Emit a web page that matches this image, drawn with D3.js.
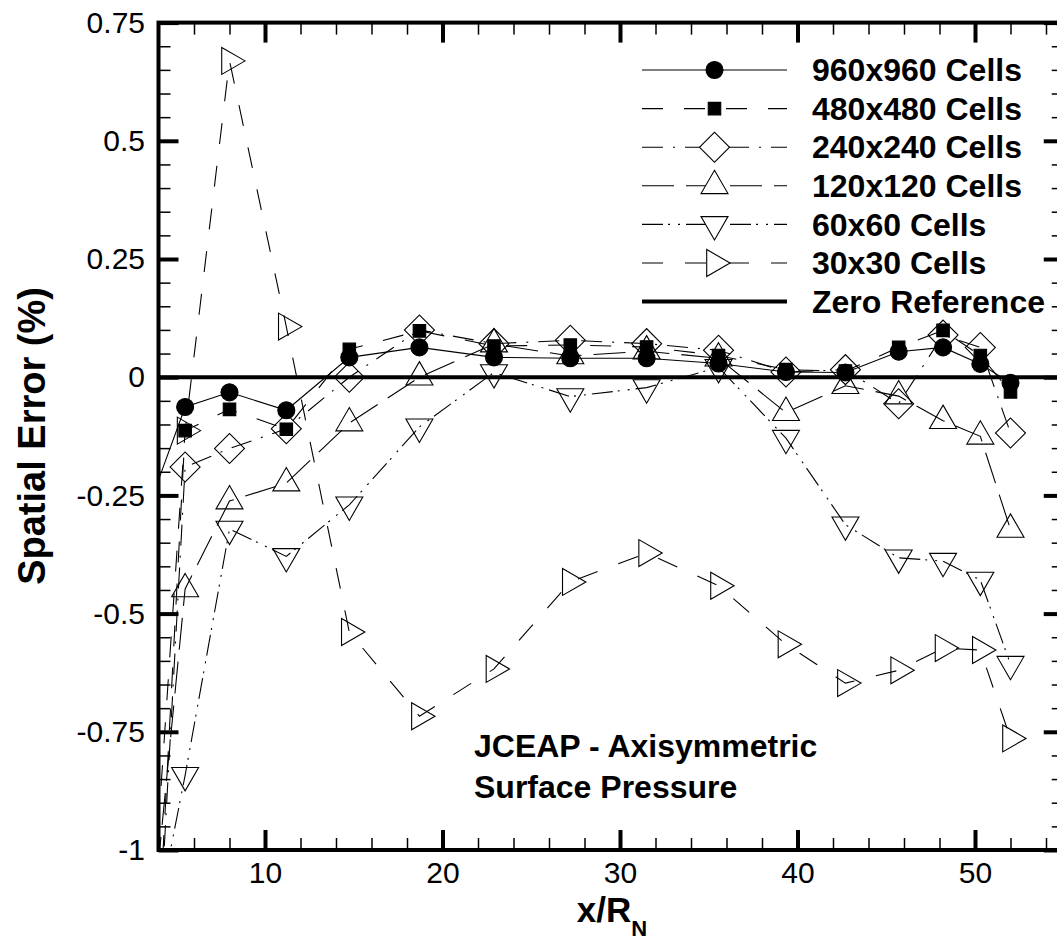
<!DOCTYPE html>
<html>
<head>
<meta charset="utf-8">
<script src="https://cdn.jsdelivr.net/npm/d3@7"></script>
<style>
  body { margin: 0; background: #fff; }
  text { font-family: Arial, "Liberation Sans", sans-serif; fill: #000; }
</style>
</head>
<body>
<script>
// stations along the body (the first one sits left of the plotted range)
const xStations = [3, 5.5, 8.0, 11.2, 14.75, 18.7, 22.9, 27.2, 31.5, 35.55, 39.35, 42.7, 45.7, 48.2, 50.3, 52.0];

// spatial error (%) per grid
const err960 = [-0.32, -0.063, -0.032, -0.070, 0.042, 0.063, 0.042, 0.040, 0.040, 0.029, 0.011, 0.010, 0.054, 0.063, 0.028, -0.012];
const err480 = [-1.9, -0.113, -0.068, -0.110, 0.059, 0.098, 0.066, 0.068, 0.064, 0.046, 0.016, 0.013, 0.063, 0.099, 0.046, -0.031];
const err240 = [-1.9, -0.190, -0.151, -0.109, 0.000, 0.100, 0.071, 0.078, 0.071, 0.057, 0.011, 0.016, -0.056, 0.089, 0.063, -0.118];
const err120 = [-1.41, -0.448, -0.262, -0.224, -0.097, 0.000, 0.070, 0.045, 0.055, 0.040, -0.075, -0.018, -0.040, -0.092, -0.125, -0.322];
const err60 = [-1.32, -0.842, -0.321, -0.379, -0.270, -0.105, 0.010, -0.041, -0.022, 0.021, -0.129, -0.312, -0.382, -0.389, -0.429, -0.607];
const err30 = [-1.5, -0.113, 0.669, 0.107, -0.539, -0.717, -0.617, -0.433, -0.372, -0.441, -0.565, -0.647, -0.620, -0.573, -0.577, -0.764];

const seriesNames = ['960x960 Cells', '480x480 Cells', '240x240 Cells', '120x120 Cells', '60x60 Cells', '30x30 Cells'];
const seriesValues = [err960, err480, err240, err120, err60, err30];

const xTicks = [10, 20, 30, 40, 50];
const yTicks = [-1, -0.75, -0.5, -0.25, 0, 0.25, 0.5, 0.75];

// line / symbol look of each grid
const seriesStyle = [
  { dash: null, symbol: d3.symbolCircle, size: 227, rotate: 0, fill: '#000' },
  { dash: '21,21', symbol: d3.symbolSquare, size: 156, rotate: 0, fill: '#000' },
  { dash: '21,10,2,10', symbol: d3.symbolSquare, size: 450, rotate: 45, fill: 'none' },
  { dash: '32,12', symbol: d3.symbolTriangle, size: 315, rotate: 0, fill: 'none' },
  { dash: '21,5,2,8,2,6', symbol: d3.symbolTriangle, size: 315, rotate: 180, fill: 'none' },
  { dash: '21,22', symbol: d3.symbolTriangle, size: 315, rotate: 90, fill: 'none' }
];

function init() {
  let svg = d3.select('body')
    .append('svg')
    .attr('width', 1057)
    .attr('height', 946);

  var xScale = d3.scaleLinear().domain([4, 55]).range([158.5, 1063.75]),
    yScale = d3.scaleLinear().domain([-1, 0.75]).range([850, 22.6]);

  var pLeft = xScale.range()[0], pRight = xScale.range()[1],
    pTop = yScale.range()[1], pBottom = yScale.range()[0];

  var xMinor = d3.range(6, 55, 2).filter(function (d) { return d % 10 !== 0; });
  var yMinor = d3.range(-20, 16).filter(function (i) { return i % 5 !== 0; }).map(function (i) { return i / 20; });

  svg.append('clipPath').attr('id', 'plotclip')
    .append('rect')
    .attr('x', pLeft).attr('y', pTop)
    .attr('width', pRight - pLeft).attr('height', pBottom - pTop);

  //helper for the tick rows on all four sides
  function ticks(axis, tx, ty, values, len, sw, labels, pad) {
    var g = svg.append('g')
      .attr('transform', 'translate(' + tx + ',' + ty + ')')
      .call(axis.tickValues(values).tickSize(-len).tickSizeOuter(0).tickPadding(pad || 3)
        .tickFormat(labels ? function (d) { return String(d); } : ''));
    g.select('.domain').remove();
    g.selectAll('line').attr('stroke', '#000').attr('stroke-width', sw);
    g.selectAll('text').style('font-size', '30px').attr('fill', '#000');
    return g;
  }

  //x axis
  ticks(d3.axisBottom(xScale), 0, pBottom, xTicks, 20, 4, true, 12);
  ticks(d3.axisBottom(xScale), 0, pBottom, xMinor, 12, 1.5, false);
  ticks(d3.axisTop(xScale), 0, pTop, xTicks, 20, 4, false);
  ticks(d3.axisTop(xScale), 0, pTop, xMinor, 12, 1.5, false);

  //y axis
  ticks(d3.axisLeft(yScale), pLeft, 0, yTicks, 20, 4, true, 13.5);
  ticks(d3.axisLeft(yScale), pLeft, 0, yMinor, 12, 1.5, false);
  ticks(d3.axisRight(yScale), pRight, 0, yTicks, 20, 4, false);
  ticks(d3.axisRight(yScale), pRight, 0, yMinor, 12, 1.5, false);

  //frame
  svg.append('rect')
    .attr('x', pLeft).attr('y', pTop)
    .attr('width', pRight - pLeft).attr('height', pBottom - pTop)
    .attr('fill', 'none').attr('stroke', '#000').attr('stroke-width', 4);

  //zero reference
  svg.append('line')
    .attr('x1', pLeft).attr('x2', pRight)
    .attr('y1', yScale(0)).attr('y2', yScale(0))
    .attr('stroke', '#000').attr('stroke-width', 4);

  var plot = svg.append('g').attr('clip-path', 'url(#plotclip)');

  var line = d3.line()
    .x(function (d) { return xScale(d.x); })
    .y(function (d) { return yScale(d.y); });

  seriesValues.forEach(function (vals, i) {
    var st = seriesStyle[i];
    var pts = vals.map(function (v, j) { return { x: xStations[j], y: v }; });

    plot.append('path')
      .datum(pts)
      .attr('d', line)
      .attr('fill', 'none')
      .attr('stroke', '#000')
      .attr('stroke-width', 1.1)
      .attr('stroke-dasharray', st.dash);

    plot.selectAll('.m' + i)
      .data(pts.filter(function (d) { return d.x >= 4; }))
      .enter().append('path')
      .attr('class', 'm' + i)
      .attr('d', d3.symbol().type(st.symbol).size(st.size))
      .attr('transform', function (d) {
        return 'translate(' + xScale(d.x) + ',' + yScale(d.y) + ') rotate(' + st.rotate + ')';
      })
      .attr('fill', st.fill)
      .attr('stroke', '#000')
      .attr('stroke-width', 1.1);
  });

  //legend
  var legend = svg.append('g');
  var rowY = function (i) { return 70 + i * 38.6; };

  seriesNames.forEach(function (name, i) {
    var st = seriesStyle[i];
    legend.append('line')
      .attr('x1', 642).attr('x2', 787)
      .attr('y1', rowY(i)).attr('y2', rowY(i))
      .attr('stroke', '#000').attr('stroke-width', 1.1)
      .attr('stroke-dasharray', st.dash);
    legend.append('path')
      .attr('d', d3.symbol().type(st.symbol).size(st.size))
      .attr('transform', 'translate(714.5,' + rowY(i) + ') rotate(' + st.rotate + ')')
      .attr('fill', st.fill === 'none' ? '#fff' : st.fill)
      .attr('stroke', '#000').attr('stroke-width', 1.1);
    legend.append('text')
      .attr('x', 812).attr('y', rowY(i))
      .attr('dy', '0.35em')
      .style('font-size', '32px').style('font-weight', 'bold')
      .text(name);
  });

  legend.append('line')
    .attr('x1', 642).attr('x2', 787)
    .attr('y1', rowY(6)).attr('y2', rowY(6))
    .attr('stroke', '#000').attr('stroke-width', 4);
  legend.append('text')
    .attr('x', 812).attr('y', rowY(6))
    .attr('dy', '0.35em')
    .style('font-size', '32px').style('font-weight', 'bold')
    .text('Zero Reference');

  //annotation
  svg.append('text')
    .attr('x', 474).attr('y', 757)
    .style('font-size', '32px').style('font-weight', 'bold')
    .text('JCEAP - Axisymmetric');
  svg.append('text')
    .attr('x', 474).attr('y', 798)
    .style('font-size', '32px').style('font-weight', 'bold')
    .text('Surface Pressure');

  //axis titles
  svg.append('text')
    .attr('transform', 'translate(32,436) rotate(-90)')
    .attr('text-anchor', 'middle')
    .attr('dy', '0.35em')
    .style('font-size', '38px').style('font-weight', 'bold')
    .text('Spatial Error (%)');

  var xt = svg.append('text')
    .attr('x', 612).attr('y', 922)
    .attr('text-anchor', 'middle')
    .style('font-size', '35px').style('font-weight', 'bold');
  xt.append('tspan').text('x/R');
  xt.append('tspan').attr('dy', 14).style('font-size', '22px').text('N');
}

init();
</script>
</body>
</html>
